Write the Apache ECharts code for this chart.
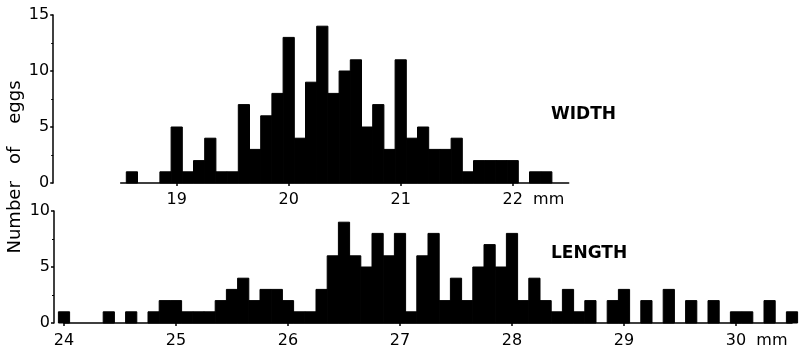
<!DOCTYPE html>
<html><head><meta charset="utf-8">
<script src="https://cdn.jsdelivr.net/npm/echarts@6/dist/echarts.min.js"></script>
<style>html,body{margin:0;padding:0;background:#fff}#c{width:799px;height:351px}</style>
</head><body><div id="c"></div>
<script>
// ---- data (bin centres in mm, counts of eggs) ----
const widthBins = [18.6, 18.7, 18.8, 18.9, 19.0, 19.1, 19.2, 19.3, 19.4, 19.5, 19.6, 19.7, 19.8, 19.9,
  20.0, 20.1, 20.2, 20.3, 20.4, 20.5, 20.6, 20.7, 20.8, 20.9, 21.0, 21.1, 21.2, 21.3, 21.4, 21.5,
  21.6, 21.7, 21.8, 21.9, 22.0, 22.1, 22.2, 22.3];
const widthCounts = [1, 0, 0, 1, 5, 1, 2, 4, 1, 1, 7, 3, 6, 8,
  13, 4, 9, 14, 8, 10, 11, 5, 7, 3, 11, 4, 5, 3, 3, 4,
  1, 2, 2, 2, 2, 0, 1, 1];
const lengthBins = [24.0, 24.1, 24.2, 24.3, 24.4, 24.5, 24.6, 24.7, 24.8, 24.9,
  25.0, 25.1, 25.2, 25.3, 25.4, 25.5, 25.6, 25.7, 25.8, 25.9,
  26.0, 26.1, 26.2, 26.3, 26.4, 26.5, 26.6, 26.7, 26.8, 26.9,
  27.0, 27.1, 27.2, 27.3, 27.4, 27.5, 27.6, 27.7, 27.8, 27.9,
  28.0, 28.1, 28.2, 28.3, 28.4, 28.5, 28.6, 28.7, 28.8, 28.9,
  29.0, 29.1, 29.2, 29.3, 29.4, 29.5, 29.6, 29.7, 29.8, 29.9,
  30.0, 30.1, 30.2, 30.3, 30.4, 30.5];
const lengthCounts = [1, 0, 0, 0, 1, 0, 1, 0, 1, 2,
  2, 1, 1, 1, 2, 3, 4, 2, 3, 3,
  2, 1, 1, 3, 6, 9, 6, 5, 8, 6,
  8, 1, 6, 8, 2, 4, 2, 5, 7, 5,
  8, 2, 4, 2, 1, 3, 1, 2, 0, 2,
  3, 0, 2, 0, 3, 0, 2, 0, 2, 0,
  1, 1, 0, 2, 0, 1];
const binWidth = 0.1;
const widthTicks = [19, 20, 21, 22];
const lengthTicks = [24, 25, 26, 27, 28, 29, 30];
const widthLabel = 'WIDTH';
const lengthLabel = 'LENGTH';
const yTitle = 'Number   of    eggs';
const unit = 'mm';

const FONT = 'DejaVu Sans';
const BLACK = '#000';

function renderBar(params, api) {
  const c = api.value(0), n = api.value(1);
  if (!n) return null;
  const p0 = api.coord([c - binWidth / 2, n]);
  const p1 = api.coord([c + binWidth / 2, 0]);
  return {
    type: 'rect',
    shape: { x: p0[0], y: p0[1], width: p1[0] - p0[0], height: p1[1] - p0[1] },
    style: { fill: BLACK, stroke: BLACK, lineWidth: 1 }
  };
}

function xAxisCfg(gi, min, max, ticks, last, off) {
  return {
    gridIndex: gi, type: 'value', min: min, max: max, offset: off,
    axisLine: { show: true, lineStyle: { color: BLACK, width: 1.5 } },
    axisTick: { show: true, length: 3, customValues: ticks, lineStyle: { color: BLACK, width: 1.5 } },
    axisLabel: {
      customValues: ticks, color: BLACK, fontSize: 16, fontFamily: FONT, margin: 5,
      formatter: v => v === last ? '{h|  ' + unit + '}' + v + '  ' + unit : String(v),
      rich: { h: { color: 'rgba(0,0,0,0)', fontSize: 16, fontFamily: FONT } }
    },
    splitLine: { show: false }
  };
}
function yAxisCfg(gi, max, off) {
  return {
    gridIndex: gi, type: 'value', min: 0, max: max, interval: 5, offset: off,
    axisLine: { show: true, lineStyle: { color: BLACK, width: 1.5 } },
    axisTick: { show: true, length: 3, lineStyle: { color: BLACK, width: 1.5 } },
    minorTick: { show: true, splitNumber: 2, length: 2, lineStyle: { color: BLACK, width: 1 } },
    axisLabel: { color: BLACK, fontSize: 16, fontFamily: FONT, margin: 4 },
    splitLine: { show: false }
  };
}

const chart = echarts.init(document.getElementById('c'), null, { renderer: 'canvas' });
chart.setOption({
  animation: false,
  backgroundColor: '#fff',
  grid: [
    { left: 120.7, top: 15, width: 448, height: 168 },
    { left: 64, top: 211, width: 728, height: 112 }
  ],
  xAxis: [
    xAxisCfg(0, 18.5, 22.5, widthTicks, 22, 4),
    xAxisCfg(1, 24.0, 30.5, lengthTicks, 30, 5)
  ],
  yAxis: [
    yAxisCfg(0, 15, 67.5),
    yAxisCfg(1, 10, 10)
  ],
  series: [
    { type: 'custom', xAxisIndex: 0, yAxisIndex: 0, renderItem: renderBar, clip: false,
      data: widthBins.map((b, i) => [b, widthCounts[i]]) },
    { type: 'custom', xAxisIndex: 1, yAxisIndex: 1, renderItem: renderBar, clip: false,
      data: lengthBins.map((b, i) => [b, lengthCounts[i]]) }
  ],
  graphic: [
    { type: 'text', x: 551, y: 106, style: { text: widthLabel, fill: BLACK, fontSize: 17, fontWeight: 'bold', fontFamily: FONT } },
    { type: 'text', x: 551, y: 245, style: { text: lengthLabel, fill: BLACK, fontSize: 17, fontWeight: 'bold', fontFamily: FONT } },
    { type: 'text', x: 15, y: 167, rotation: Math.PI / 2,
      style: { text: yTitle, fill: BLACK, fontSize: 18, fontFamily: FONT, align: 'center', verticalAlign: 'middle' } }
  ]
});
</script></body></html>
